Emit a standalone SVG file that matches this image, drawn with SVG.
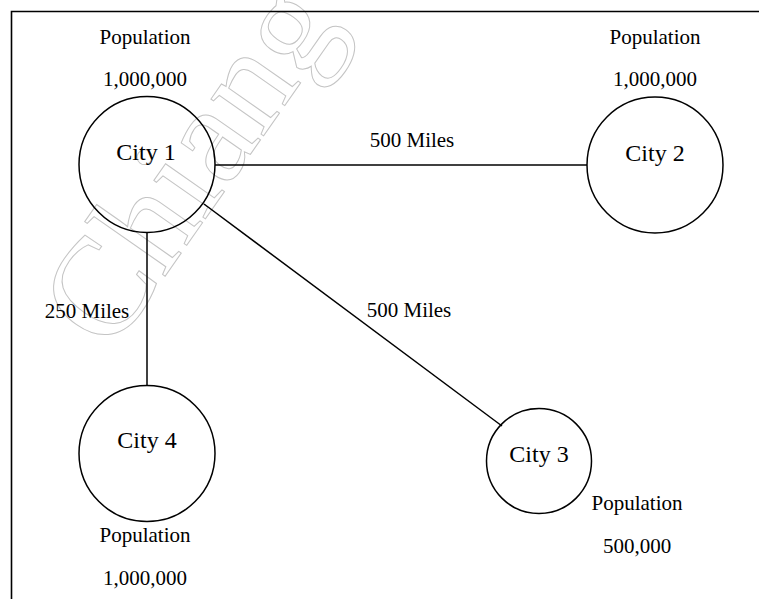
<svg xmlns="http://www.w3.org/2000/svg" width="759" height="599" viewBox="0 0 759 599">
<style>
text{font-family:"Liberation Serif","Times New Roman",serif;fill:#000;text-anchor:middle}
.lbl{font-size:21px}
.city{font-size:24px}
.node{fill:none;stroke:#000;stroke-width:1.5}
.edge{stroke:#000;stroke-width:1.5;fill:none}
.wm{font-size:140px;fill:none;stroke:#c4c4c4;stroke-width:1;text-anchor:start}
</style>
<rect width="759" height="599" fill="#fff"/>
<text class="wm" transform="translate(110,355) rotate(-55)">Chiang</text>
<path d="M11.5,599 V11.5 H759" fill="none" stroke="#000" stroke-width="1.6"/>
<g id="connectors">
<line class="edge" x1="215" y1="165" x2="587" y2="165"/>
<line class="edge" x1="147" y1="232" x2="147" y2="385"/>
<line class="edge" x1="204" y1="204" x2="502" y2="426"/>
<text class="lbl" x="412" y="147">500 Miles</text>
<text class="lbl" x="87" y="318">250 Miles</text>
<text class="lbl" x="409" y="317">500 Miles</text>
</g>
<g id="city1">
<circle class="node" cx="147" cy="164.5" r="68"/>
<text class="city" x="146" y="160">City 1</text>
<text class="lbl" x="145" y="44">Population</text>
<text class="lbl" x="145" y="86">1,000,000</text>
</g>
<g id="city2">
<circle class="node" cx="655" cy="165" r="68"/>
<text class="city" x="655" y="161">City 2</text>
<text class="lbl" x="655" y="44">Population</text>
<text class="lbl" x="655" y="86">1,000,000</text>
</g>
<g id="city3">
<circle class="node" cx="539" cy="461" r="52.5"/>
<text class="city" x="539" y="462">City 3</text>
<text class="lbl" x="637" y="510">Population</text>
<text class="lbl" x="637" y="553">500,000</text>
</g>
<g id="city4">
<circle class="node" cx="147" cy="453.5" r="68"/>
<text class="city" x="147" y="448">City 4</text>
<text class="lbl" x="145" y="542">Population</text>
<text class="lbl" x="145" y="585">1,000,000</text>
</g>
</svg>
